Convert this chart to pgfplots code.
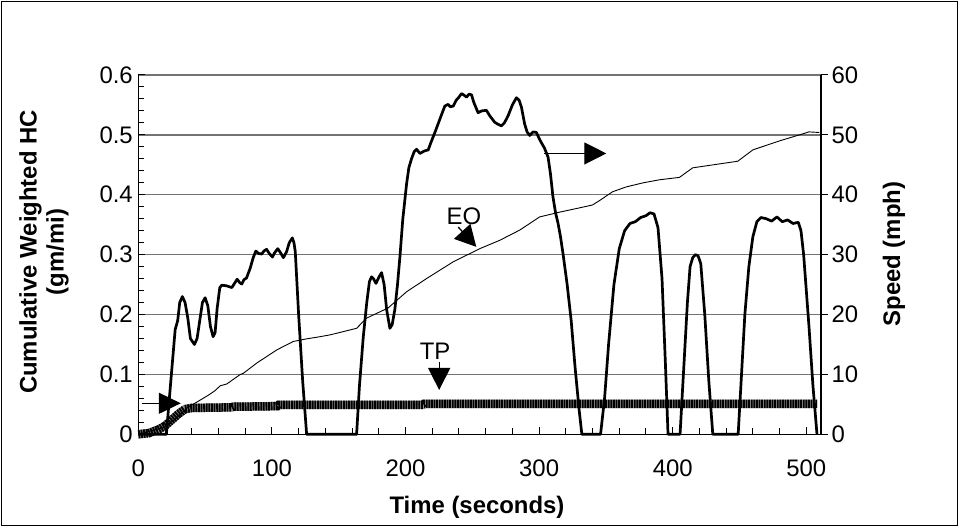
\documentclass[border=0pt]{standalone}
\usepackage{fontspec}
\setmainfont{Liberation Sans}
\usepackage{pgfplots}
\pgfplotsset{compat=1.18}
\usetikzlibrary{arrows.meta}
\begin{document}
\begin{tikzpicture}
\useasboundingbox (0,0) rectangle (959bp,527bp);
\draw[line width=1bp] (1.5bp,1.5bp) rectangle (957.5bp,525.5bp);
\begin{axis}[
  at={(138.3bp,92.7bp)}, anchor=south west,
  width=682.7bp, height=359.3bp, scale only axis,
  xmin=0, xmax=511, ymin=0, ymax=0.6,
  axis x line*=bottom, axis y line*=left,
  axis line style={line width=1.3bp, black},
  xtick={0,100,200,300,400,500}, minor x tick num=4,
  ytick={0,0.1,0.2,0.3,0.4,0.5,0.6}, minor y tick num=4,
  ymajorgrids, major grid style={line width=1.3bp, black!55},
  tick align=inside, major tick length=7bp, minor tick length=6bp,
  tick style={line width=1bp, black},
  /pgf/number format/assume math mode=true,
  yticklabel style={/pgf/number format/fixed, font=\fontsize{24}{28}\selectfont, xshift=-2bp},
  xticklabel style={font=\fontsize{24}{28}\selectfont, yshift=-22bp},
  clip=false,
]
% TP band
\addplot[line width=8.5bp, black!45] coordinates {
(0,0) (8,0.002) (15,0.008) (20,0.014) (25,0.024) (30,0.034) (35,0.042) (40,0.044) (70,0.045) (71,0.046) (104,0.047) (105,0.049) (213,0.049) (214,0.051) (508,0.051)};
\addplot[line width=8.5bp, black, dash pattern=on 1.8bp off 0.8bp] coordinates {
(0,0) (8,0.002) (15,0.008) (20,0.014) (25,0.024) (30,0.034) (35,0.042) (40,0.044) (70,0.045) (71,0.046) (104,0.047) (105,0.049) (213,0.049) (214,0.051) (508,0.051)};
% EO
\addplot[line width=0.9bp, black] coordinates {
(0,0) (20,0.012) (30,0.03) (37,0.045) (42.5,0.052) (52.2,0.065) (57.4,0.0728) (61.3,0.081) (66.2,0.084) (76.2,0.0997) (78.7,0.102) (88.7,0.119) (103.7,0.141) (116,0.155) (125,0.159) (136,0.163) (143.5,0.166) (163.4,0.177) (170.9,0.194) (187,0.211) (200.8,0.238) (215.7,0.260) (235.7,0.288) (255.6,0.310) (270.6,0.324) (285.5,0.341) (300.4,0.363) (315.4,0.371) (330,0.378) (340,0.383) (345,0.39) (355,0.405) (365,0.413) (378,0.42) (390,0.425) (405,0.429) (415,0.445) (448.7,0.456) (460,0.475) (480,0.490) (494.8,0.500) (502,0.505) (509.7,0.504)};
% annotations
\draw[line width=1.3bp, -{Triangle[length=22bp,width=21bp]}] (2.5,0.0518) -- (31.8,0.0518);
\draw[line width=1.3bp, -{Triangle[length=22bp,width=22bp]}] (303.4,0.469) -- (350.3,0.469);
\draw[line width=1.3bp, -{Triangle[length=22bp,width=22bp]}] (225.2,0.1212) -- (225.2,0.074);
\draw[line width=1.3bp, -{Triangle[length=21bp,width=22bp]}] (239.5,0.346) -- (253,0.313);
\node[font=\fontsize{24}{28}\selectfont] at (243.7,0.3636) {EO};
\node[font=\fontsize{24}{28}\selectfont] at (222.2,0.139) {TP};
\end{axis}
\begin{axis}[
  at={(138.3bp,92.7bp)}, anchor=south west,
  width=682.7bp, height=359.3bp, scale only axis,
  xmin=0, xmax=511, ymin=0, ymax=60,
  axis x line=none, axis y line*=right,
  axis line style={line width=1.3bp, black},
  ytick={0,10,20,30,40,50,60},
  tick align=outside, major tick length=7bp,
  tick style={line width=1bp, black},
  /pgf/number format/assume math mode=true,
  yticklabel style={font=\fontsize{24}{28}\selectfont},
  clip=false,
]
\addplot[line width=2.7bp, black, line join=round] coordinates {
(0,0) (21,0) (24,8) (27.6,17.5) (29.5,19) (31,22) (33,23) (35,22) (37,19.5) (39,16) (42,15) (44,16) (46,19) (48,22) (50,22.8) (52,21.5) (54,18) (56,16.3) (57.5,17) (59,21) (61,24.5) (62.5,24.9) (66,24.8) (70,24.5) (72,25.2) (74,25.9) (76,25.3) (77.5,25.1) (79,25.8) (81,26.1) (83.7,27.7) (86,29.5) (88,30.6) (90,30.2) (92.4,30.1) (94,30.6) (96,30.9) (98,30.2) (100.4,29.6) (102,30.3) (104.4,31) (106.5,30.3) (108.6,29.5) (111,30.5) (113,32) (115.3,32.8) (116.5,32) (117.5,30.5) (120,20) (123,9) (126,0)
(163.4,0) (165.5,8) (168.4,16.3) (171,22) (173,25.5) (174.6,26.3) (176,26) (177.9,25.2) (180,26.2) (182.1,27) (184,25) (185.9,20.8) (188.3,17.7) (190,18.3) (192,20.8) (194,25) (195.8,29.6) (198,36) (200.8,41.8) (202.5,44.5) (204.5,46) (206.5,47.2) (208.3,47.6) (210.8,46.9) (214,47.3) (217,47.5) (219.5,49) (222,50.4) (226,52.8) (229.4,54.8) (231.9,55.1) (233.5,54.7) (235.7,54.8) (238,55.8) (240,56.3) (241.9,56.9) (244,56.6) (245.7,56.3) (247.5,56.8) (249.4,56.7) (251,55.5) (254.3,53.7) (257,54) (260.6,54.1) (263,53.2) (266.8,52.1) (269,51.8) (271.8,51.5) (274,52) (276.8,53.2) (280,55) (283,56.2) (285,55.8) (286.8,54.6) (288,53.2) (289.2,51.8) (291,50.5) (293,49.9) (295.5,50.5) (298,50.4) (300,49.4) (301.7,48.7) (304,47.8) (306.7,46.3) (308.5,43.5) (310.4,39.6) (312.3,37) (314.2,35.2) (316,33) (318,30) (321,25) (324,19) (327,11) (330,4) (332,0)
(346,0) (349,6) (352,15) (356,25) (360,31) (364,34) (368,35.2) (372,35.5) (376,36.2) (380,36.5) (383,37) (386,36.8) (389,34.5) (392,26) (394.5,12) (396.5,0) (405.5,0) (408,10) (411,22) (413,28) (415,29.5) (417,30) (419,29.8) (421,28.5) (424,20) (427,9) (430,0)
(449,0) (451.5,10) (454,20) (457,28) (460,33) (463,35.5) (466,36.2) (470,36) (474,35.6) (478,36.3) (482,35.5) (486,35.8) (490,35.2) (494,35.4) (496,34) (498,30) (502,18) (505,8) (508,0)};
\end{axis}
\node[font=\bfseries\fontsize{24}{28}\selectfont] at (477bp,20bp) {Time (seconds)};
\node[font=\bfseries\fontsize{24}{27}\selectfont, rotate=90, align=center] at (44bp,275bp) {Cumulative Weighted HC\\(gm/mi)};
\node[font=\bfseries\fontsize{24}{28}\selectfont, rotate=90] at (894bp,273bp) {Speed (mph)};
\end{tikzpicture}
\end{document}
